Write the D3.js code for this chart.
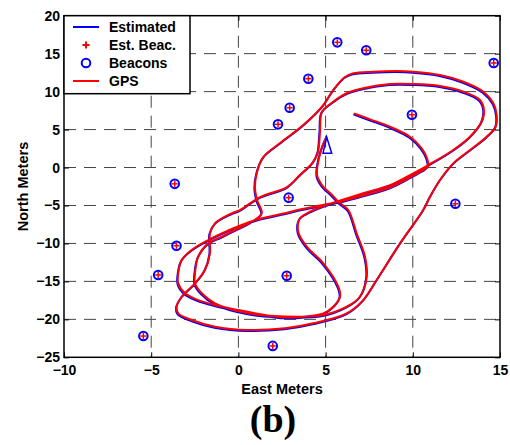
<!DOCTYPE html>
<html>
<head>
<meta charset="utf-8">
<script src="https://cdn.jsdelivr.net/npm/d3@7"></script>
<style>
  html, body { margin: 0; padding: 0; background: #fff; }
  svg { display: block; }
  .tick text { font-family: "Liberation Sans", Arial, sans-serif; font-weight: bold; font-size: 14px; fill: #000; }
  .label { font-family: "Liberation Sans", Arial, sans-serif; font-weight: bold; font-size: 14.5px; fill: #000; }
  .legend-text { font-family: "Liberation Sans", Arial, sans-serif; font-weight: bold; font-size: 14px; fill: #000; }
  .grid line { stroke: #444; stroke-width: 1; stroke-dasharray: 12,8; }
</style>
</head>
<body>
<svg id="chart" width="510" height="445"></svg>
<script>
const xTicks = [-10, -5, 0, 5, 10, 15];
const yTicks = [-25, -20, -15, -10, -5, 0, 5, 10, 15, 20];

// beacon positions [east, north] in meters
const beacons = [
  [-5.45, -22.2], [-4.6, -14.15], [-3.55, -10.3], [-3.65, -2.15],
  [2.88, -3.97], [2.77, -14.25], [1.97, -23.5], [2.27, 5.69],
  [2.94, 7.88], [4.01, 11.7], [5.67, 16.49], [7.33, 15.44],
  [9.95, 6.96], [14.64, 13.77], [12.44, -4.77]
];

const estBeacons = [
  [-5.45, -22.2], [-4.6, -14.15], [-3.55, -10.3], [-3.65, -2.15],
  [2.88, -3.97], [2.77, -14.25], [1.97, -23.5], [2.27, 5.69],
  [2.94, 7.88], [4.01, 11.7], [5.67, 16.49], [7.33, 15.44],
  [9.95, 6.96], [14.64, 13.77], [12.44, -4.77]
];

// GPS track
const gpsTrack = [
  [6.63, 7.14], [7.55, 6.35], [8.69, 5.38], [9.84, 4.06], [10.51, 2.53], [10.81, 1.25], [10.87, 0.20],
  [10.41, -0.59], [9.72, -1.45], [8.69, -2.63], [7.14, -3.69], [5.83, -4.48], [4.68, -5.01], [3.53, -5.53],
  [2.67, -6.03], [1.34, -6.69], [0.19, -7.57], [-0.96, -8.67], [-1.73, -9.55], [-2.68, -10.87], [-3.25, -12.19],
  [-3.45, -13.94], [-3.45, -15.26], [-3.06, -16.57], [-2.30, -17.46], [-1.34, -18.11], [-0.01, -18.77],
  [1.53, -19.43], [2.67, -19.73],
  [3.82, -19.63], [4.87, -19.21], [5.44, -18.34], [5.83, -17.02], [5.73, -15.70], [4.87, -12.62],
  [3.92, -10.43], [3.43, -8.46], [3.53, -6.69], [4.11, -5.82], [4.87, -5.07],
  [5.94, -4.28], [7.20, -3.36], [8.69, -2.31], [9.84, -0.99], [10.99, 0.46],
  [12.32, 2.31], [13.28, 4.06], [13.95, 6.03], [14.08, 7.58], [13.85, 8.89], [12.90, 9.99], [11.56, 10.74],
  [10.03, 11.00], [8.69, 11.00], [7.16, 10.43], [6.21, 9.78], [5.44, 8.67],
  [4.79, 7.31], [4.68, 4.68], [4.56, 2.04], [4.28, 0.72], [3.53, -0.99], [2.79, -2.57], [1.24, -3.89], [0.09, -5.60],
  [-0.38, -6.03], [-1.34, -7.35], [-1.63, -8.67], [-1.63, -11.30], [-1.92, -13.50], [-2.49, -15.26],
  [-3.25, -17.02], [-3.54, -18.34], [-3.45, -19.21], [-2.68, -20.09], [-1.34, -20.97], [0.57, -21.41], [2.67, -21.18],
  [4.29, -20.52], [6.21, -19.21], [7.16, -17.46], [7.93, -14.82], [9.27, -9.99], [10.60, -5.60], [10.99, -3.85],
  [11.56, -1.65], [12.32, 0.55], [13.28, 2.31], [14.24, 4.06], [14.75, 5.37], [14.81, 6.92], [14.62, 8.46],
  [14.04, 9.99], [12.90, 11.30], [11.56, 12.19], [10.03, 12.62], [9.08, 12.71], [7.74, 12.62], [6.59, 12.41], [6.11, 11.92],
  [5.44, 10.21], [4.87, 8.23], [3.72, 5.60], [2.39, 3.23], [1.43, 1.38], [1.07, -0.59], [0.95, -2.57], [1.07, -4.28], [1.34, -6.03],
  [0.76, -7.14], [0.19, -7.80], [-0.96, -9.12], [-1.73, -9.99], [-2.30, -11.75], [-2.49, -13.94], [-2.49, -15.26],
  [-2.10, -16.57], [-1.34, -17.89], [0.57, -19.21], [2.67, -19.63],
  [4.87, -19.43], [6.21, -18.34], [6.97, -17.02], [7.36, -14.39], [7.26, -11.75], [6.78, -8.67], [6.30, -5.60],
  [5.73, -4.51], [5.37, -3.62], [4.79, -2.31], [4.51, -0.99], [4.62, 1.25], [4.85, 2.96], [5.06, 4.02]
];

const estimatedTrack = gpsTrack;

// vehicle pose marker outline
const vehicle = [[5.06, 4.02], [4.85, 1.87], [5.35, 1.87]];

const legendItems = [
  { label: "Estimated", type: "line", color: "#0000ff" },
  { label: "Est. Beac.", type: "plus", color: "#ff0000" },
  { label: "Beacons", type: "circle", color: "#0000ff" },
  { label: "GPS", type: "line", color: "#ff0000" }
];

const svg = d3.select("#chart");
const plotLeft = 64, plotRight = 500, plotTop = 15.7, plotBottom = 357.3;

const x = d3.scaleLinear().domain([-10, 15]).range([plotLeft, plotRight]);
const y = d3.scaleLinear().domain([-25, 20]).range([plotBottom, plotTop]);

// grid
const grid = svg.append("g").attr("class", "grid");
grid.selectAll(".gx")
  .data(xTicks.filter((d) => d > -10 && d < 15))
  .join("line")
  .attr("x1", (d) => x(d)).attr("x2", (d) => x(d))
  .attr("y1", plotTop).attr("y2", plotBottom);
grid.selectAll(".gy")
  .data(yTicks.filter((d) => d > -25 && d < 20))
  .join("line")
  .attr("x1", plotLeft).attr("x2", plotRight)
  .attr("y1", (d) => y(d)).attr("y2", (d) => y(d));

// tracks
const line = d3.line().x((d) => x(d[0])).y((d) => y(d[1])).curve(d3.curveCatmullRom.alpha(0.5));

svg.append("path")
  .datum(estimatedTrack)
  .attr("d", line)
  .attr("fill", "none")
  .attr("stroke", "#0000ff")
  .attr("stroke-width", 2)
  .attr("transform", "translate(-0.6,1)");

svg.append("path")
  .datum(gpsTrack)
  .attr("d", line)
  .attr("fill", "none")
  .attr("stroke", "#ff0000")
  .attr("stroke-width", 2);

// beacons
svg.selectAll(".beacon")
  .data(beacons)
  .join("circle")
  .attr("cx", (d) => x(d[0]))
  .attr("cy", (d) => y(d[1]))
  .attr("r", 4.3)
  .attr("fill", "none")
  .attr("stroke", "#0000ff")
  .attr("stroke-width", 2);

const plus = svg.append("g");
plus.selectAll(".ph")
  .data(estBeacons)
  .join("line")
  .attr("x1", (d) => x(d[0]) - 3).attr("x2", (d) => x(d[0]) + 3)
  .attr("y1", (d) => y(d[1])).attr("y2", (d) => y(d[1]))
  .attr("stroke", "#ff0000").attr("stroke-width", 1.5);
plus.selectAll(".pv")
  .data(estBeacons)
  .join("line")
  .attr("x1", (d) => x(d[0])).attr("x2", (d) => x(d[0]))
  .attr("y1", (d) => y(d[1]) - 3).attr("y2", (d) => y(d[1]) + 3)
  .attr("stroke", "#ff0000").attr("stroke-width", 1.5);

svg.append("path")
  .datum(vehicle)
  .attr("d", d3.line().x((d) => x(d[0])).y((d) => y(d[1])).curve(d3.curveLinearClosed))
  .attr("fill", "none")
  .attr("stroke", "#0000ff")
  .attr("stroke-width", 1.5);

// axes
svg.append("g")
  .attr("transform", `translate(0,${plotBottom})`)
  .call(d3.axisBottom(x).tickValues(xTicks).tickSizeInner(-5).tickSizeOuter(0).tickPadding(8));
svg.append("g")
  .attr("transform", `translate(${plotLeft},0)`)
  .call(d3.axisLeft(y).tickValues(yTicks).tickSizeInner(-5).tickSizeOuter(0).tickPadding(4));
svg.append("g")
  .attr("transform", `translate(0,${plotTop})`)
  .call(d3.axisTop(x).tickValues(xTicks).tickSizeInner(-5).tickSizeOuter(0).tickFormat(""));
svg.append("g")
  .attr("transform", `translate(${plotRight},0)`)
  .call(d3.axisRight(y).tickValues(yTicks).tickSizeInner(-5).tickSizeOuter(0).tickFormat(""));

svg.selectAll(".domain").remove();
svg.selectAll(".tick line").attr("stroke", "#000").attr("stroke-width", 1);

svg.append("rect")
  .attr("x", plotLeft).attr("y", plotTop)
  .attr("width", plotRight - plotLeft).attr("height", plotBottom - plotTop)
  .attr("fill", "none")
  .attr("stroke", "#000")
  .attr("stroke-width", 1.5);

svg.append("text")
  .attr("class", "label")
  .attr("x", (plotLeft + plotRight) / 2)
  .attr("y", 394)
  .attr("text-anchor", "middle")
  .text("East Meters");

svg.append("text")
  .attr("class", "label")
  .attr("transform", `translate(28,${(plotTop + plotBottom) / 2}) rotate(-90)`)
  .attr("text-anchor", "middle")
  .text("North Meters");

svg.append("text")
  .attr("x", 273)
  .attr("y", 432)
  .attr("text-anchor", "middle")
  .attr("font-family", "'Liberation Serif', 'Times New Roman', serif")
  .attr("font-weight", "bold")
  .attr("font-size", 38)
  .text("(b)");

// legend
const legend = svg.append("g");
legend.append("rect")
  .attr("x", plotLeft).attr("y", plotTop)
  .attr("width", 126).attr("height", 78)
  .attr("fill", "#fff")
  .attr("stroke", "#000")
  .attr("stroke-width", 1.5);

const rows = legend.selectAll(".row")
  .data(legendItems)
  .join("g")
  .attr("transform", (d, i) => `translate(${plotLeft},${27 + i * 18})`);

rows.filter((d) => d.type === "line").append("line")
  .attr("x1", 9).attr("x2", 35)
  .attr("stroke", (d) => d.color).attr("stroke-width", 2);
rows.filter((d) => d.type === "plus").append("path")
  .attr("d", "M18.5,0H25.5M22,-3.5V3.5")
  .attr("stroke", (d) => d.color).attr("stroke-width", 2);
rows.filter((d) => d.type === "circle").append("circle")
  .attr("cx", 22).attr("r", 4.3)
  .attr("fill", "none")
  .attr("stroke", (d) => d.color).attr("stroke-width", 2);
rows.append("text")
  .attr("class", "legend-text")
  .attr("x", 45)
  .attr("y", 5)
  .text((d) => d.label);
</script>
</body>
</html>
